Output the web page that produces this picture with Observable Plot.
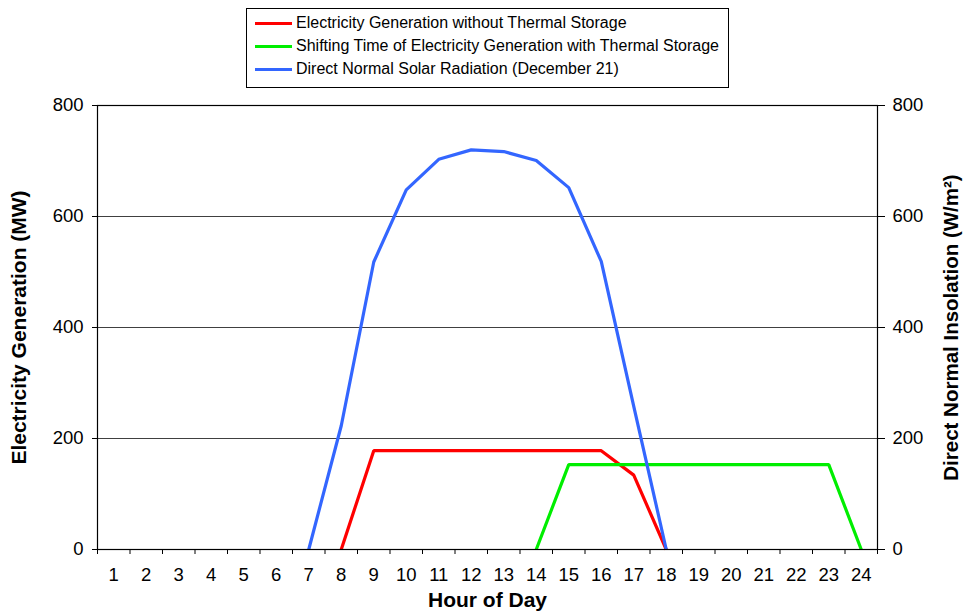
<!DOCTYPE html>
<html>
<head>
<meta charset="utf-8">
<script src="https://cdn.jsdelivr.net/npm/d3@7"></script>
<script src="https://cdn.jsdelivr.net/npm/@observablehq/plot@0.6"></script>
<style>
  body { margin: 0; background: #fff; font-family: "Liberation Sans", Arial, sans-serif; }
  #wrap { position: relative; width: 964px; height: 615px; }
  #legend { position: absolute; left: 246px; top: 8px; width: 481px; height: 78px;
            border: 1px solid #000; background: #fff; box-sizing: content-box; }
  .item { position: absolute; left: 8px; height: 20px; display: flex; align-items: center;
          font-size: 16px; color: #000; white-space: nowrap; }
  .swatch { width: 37px; height: 3px; margin-right: 4px; }
</style>
</head>
<body>
<div id="wrap"><div id="legend"></div></div>
<script>
const hours = [1,2,3,4,5,6,7,8,9,10,11,12,13,14,15,16,17,18,19,20,21,22,23,24];
const seriesNames = [
  "Electricity Generation without Thermal Storage",
  "Shifting Time of Electricity Generation with Thermal Storage",
  "Direct Normal Solar Radiation (December 21)"
];
const seriesColors = ["#ff0000", "#00ee00", "#3366ff"];
// values per hour (null = not drawn)
const noStorage = [null,null,null,null,null,null,null,0,178,178,178,178,178,178,178,178,134,0,null,null,null,null,null,null];
const withStorage = [null,null,null,null,null,null,null,null,null,null,null,null,null,0,153,153,153,153,153,153,153,153,153,0];
const radiation = [null,null,null,null,null,null,0,223,518,648,703,720,717,701,652,519,258,0,null,null,null,null,null,null];
const yTicks = [0,200,400,600,800];

const allSeries = [noStorage, withStorage, radiation];
const rows = [];
allSeries.forEach((vals, s) => {
  hours.forEach((h, i) => {
    if (vals[i] !== null) rows.push({hour: h, value: vals[i], series: seriesNames[s]});
  });
});
const boundaries = [hours[0] - 0.5, ...hours.map(h => h + 0.5)];

const chart = Plot.plot({
  width: 964,
  height: 615,
  marginLeft: 97,
  marginRight: 87,
  marginTop: 105,
  marginBottom: 66,
  style: {fontFamily: "'Liberation Sans', Arial, sans-serif", fontSize: "18.5px", color: "#000", background: "transparent"},
  x: {domain: [hours[0] - 0.5, hours[hours.length - 1] + 0.5]},
  y: {domain: [0, 800]},
  color: {domain: seriesNames, range: seriesColors},
  marks: [
    Plot.ruleY(yTicks, {stroke: "#000", strokeOpacity: 0.75, strokeWidth: 1}),
    Plot.axisX({ticks: hours, tickSize: 0, tickPadding: 18, tickFormat: d => String(d), label: null, fontSize: 18.5}),
    Plot.axisX({ticks: boundaries, tickSize: 5, tickFormat: () => "", label: null, stroke: "#000"}),
    Plot.axisY({ticks: yTicks, tickSize: 5, tickPadding: 9, label: null, fontSize: 18.5}),
    Plot.axisY({anchor: "right", ticks: yTicks, tickSize: 7, tickPadding: 8, label: null, fontSize: 18.5}),
    Plot.line(rows, {x: "hour", y: "value", z: "series", stroke: "series", strokeWidth: 3.2, strokeLinejoin: "miter", strokeLinecap: "butt"}),
    Plot.frame({stroke: "#000", strokeWidth: 1.2}),
    Plot.text(["Hour of Day"], {frameAnchor: "bottom", dy: 57, text: d => d, fontWeight: "bold", fontSize: 21}),
    Plot.text(["Electricity Generation (MW)"], {frameAnchor: "left", textAnchor: "middle", dx: -78, rotate: -90, text: d => d, fontWeight: "bold", fontSize: 21}),
    Plot.text(["Direct Normal Insolation (W/m²)"], {frameAnchor: "right", textAnchor: "middle", dx: 74, rotate: -90, text: d => d, fontWeight: "bold", fontSize: 20.5})
  ]
});
document.getElementById("wrap").prepend(chart);

const legend = document.getElementById("legend");
seriesNames.forEach((name, i) => {
  const item = document.createElement("div");
  item.className = "item";
  item.style.top = (4 + i * 23) + "px";
  const sw = document.createElement("div");
  sw.className = "swatch";
  sw.style.background = seriesColors[i];
  const tx = document.createElement("span");
  tx.textContent = name;
  item.appendChild(sw);
  item.appendChild(tx);
  legend.appendChild(item);
});
</script>
</body>
</html>
